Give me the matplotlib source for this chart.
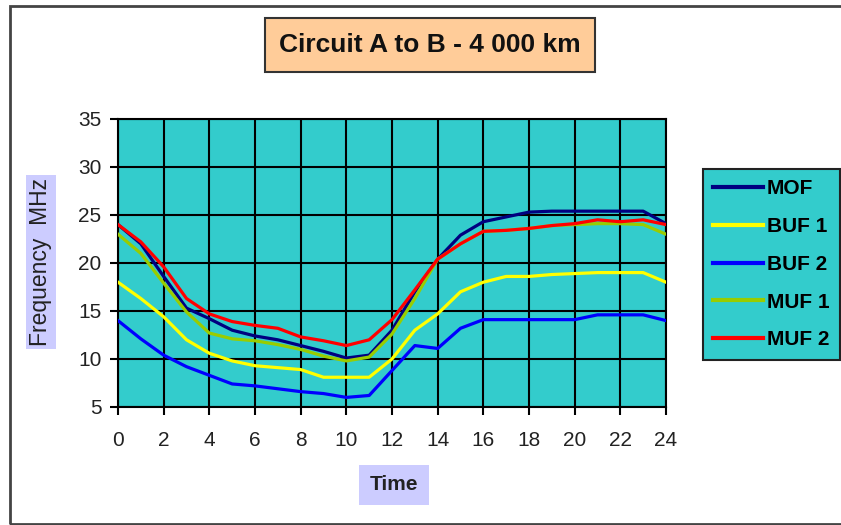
import matplotlib
matplotlib.use('Agg')
import matplotlib.pyplot as plt
from matplotlib.patches import Rectangle

# --- data ---
hours = list(range(25))
mof  = [24.0, 22.0, 18.6, 15.3, 14.2, 13.0, 12.4, 12.0, 11.4, 10.8, 10.1, 10.4, 13.0,
        17.0, 20.4, 22.9, 24.3, 24.8, 25.3, 25.4, 25.4, 25.4, 25.4, 25.4, 24.1]
buf1 = [18.0, 16.3, 14.4, 12.0, 10.6, 9.8, 9.3, 9.1, 8.9, 8.1, 8.1, 8.1, 10.0,
        13.0, 14.7, 17.0, 18.0, 18.6, 18.6, 18.8, 18.9, 19.0, 19.0, 19.0, 18.0]
buf2 = [14.0, 12.1, 10.4, 9.2, 8.3, 7.4, 7.2, 6.9, 6.6, 6.4, 6.0, 6.2, 8.8,
        11.4, 11.1, 13.2, 14.1, 14.1, 14.1, 14.1, 14.1, 14.6, 14.6, 14.6, 14.0]
muf1 = [23.0, 21.0, 17.9, 14.9, 12.7, 12.1, 11.9, 11.5, 11.0, 10.3, 9.8, 10.2, 12.6,
        16.3, 20.4, 22.0, 23.3, 23.4, 23.6, 23.9, 24.0, 24.1, 24.1, 24.0, 23.0]
muf2 = [24.0, 22.2, 19.6, 16.3, 14.7, 13.9, 13.5, 13.2, 12.3, 11.9, 11.4, 12.0, 14.1,
        17.2, 20.4, 22.0, 23.3, 23.4, 23.6, 23.9, 24.1, 24.5, 24.3, 24.5, 24.0]

series = [('MOF', mof, '#000080'), ('BUF 1', buf1, '#FFFF00'), ('BUF 2', buf2, '#0000FF'),
          ('MUF 1', muf1, '#99CC00'), ('MUF 2', muf2, '#FF0000')]

plt.rcParams['font.family'] = ['Liberation Sans', 'DejaVu Sans']

W, H = 841, 525
fig = plt.figure(figsize=(W / 100, H / 100), dpi=100)
fig.patch.set_facecolor('white')

# outer chart frame
fig.patches.append(Rectangle((9.5 / W, 1 / H), 1.0, 519.5 / H - 1 / H, transform=fig.transFigure,
                             fill=False, edgecolor='#444444', linewidth=2, clip_on=False))

ax = fig.add_axes([118 / W, 1 - 407 / H, (666 - 118) / W, (407 - 119) / H])
ax.set_facecolor('#33CCCC')

for name, vals, col in series:
    ax.plot(hours, vals, color=col, linewidth=2.3, label=name, zorder=3)

ax.set_xlim(0, 24)
ax.set_ylim(5, 35)
ax.set_xticks(range(0, 25, 2))
ax.set_yticks(range(5, 36, 5))
ax.grid(True, color='black', linewidth=1.5, zorder=1)
ax.set_axisbelow(True)
for sp in ax.spines.values():
    sp.set_color('black')
    sp.set_linewidth(1.5)
ax.tick_params(direction='out', length=6, width=1.5, color='black',
               labelsize=15, labelcolor='#222222')
ax.tick_params(axis='x', pad=11)
ax.tick_params(axis='y', pad=6)

# axis labels in lavender boxes
fig.text(41 / W, 1 - 262 / H, 'Frequency  MHz', rotation=90, ha='center', va='center',
         fontsize=16.5, color='#222222',
         bbox=dict(boxstyle='square,pad=0.15', facecolor='#CCCCFF', edgecolor='none'))
fig.text(394 / W, 1 - 485 / H, 'Time', ha='center', va='center', fontsize=15,
         fontweight='bold', color='#222222',
         bbox=dict(boxstyle='square,pad=0.5', facecolor='#CCCCFF', edgecolor='none'))

# title box
fig.text(430 / W, 1 - 45 / H, 'Circuit A to B - 4 000 km', ha='center', va='center',
         fontsize=19, fontweight='bold', color='#111111',
         bbox=dict(boxstyle='square,pad=0.55', facecolor='#FFCC99', edgecolor='#333333',
                   linewidth=1.5))

leg = fig.legend(loc='upper left', bbox_to_anchor=(703 / W, 1 - 169 / H),
                 prop={'weight': 'bold', 'size': 15}, frameon=True, fancybox=False,
                 handlelength=2.4, handletextpad=0.15, labelspacing=0.9,
                 borderpad=0.5, borderaxespad=0)
leg.get_frame().set_facecolor('#33CCCC')
leg.get_frame().set_edgecolor('#222222')
leg.get_frame().set_linewidth(1.5)
leg.get_frame().set_alpha(1)
for line in leg.get_lines():
    line.set_linewidth(3)

fig.savefig('out.png', dpi=100)
